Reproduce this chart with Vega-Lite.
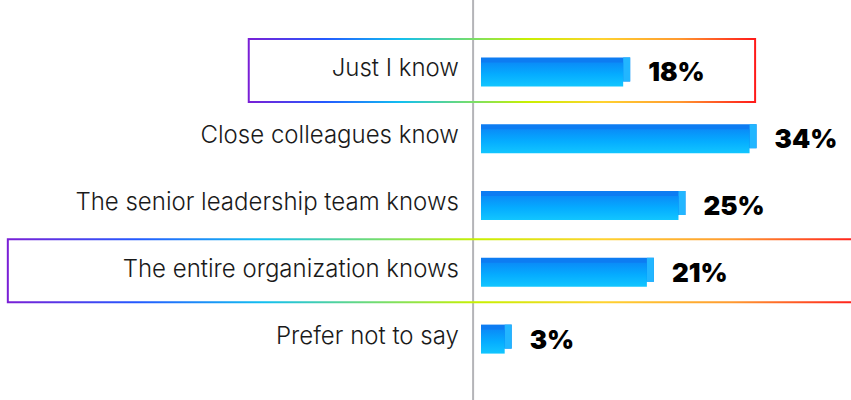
{
  "$schema": "https://vega.github.io/schema/vega-lite/v6.json",
  "width": 851,
  "height": 400,
  "padding": 0,
  "autosize": {"type": "none"},
  "background": "white",
  "config": {"view": {"stroke": null}},
  "datasets": {
    "bars": [
      {"cat": "Just I know", "value": 18},
      {"cat": "Close colleagues know", "value": 34},
      {"cat": "The senior leadership team knows", "value": 25},
      {"cat": "The entire organization knows", "value": 21},
      {"cat": "Prefer not to say", "value": 3}
    ],
    "boxes": [
      {"cat": "Just I know", "from": -29.4, "to": 34.7},
      {"cat": "The entire organization knows", "from": -59.9, "to": 48}
    ]
  },
  "encoding": {
    "y": {
      "field": "cat", "type": "nominal", "sort": null, "axis": null,
      "scale": {"domain": ["Just I know", "Close colleagues know", "The senior leadership team knows", "The entire organization knows", "Prefer not to say"], "range": [37, 371], "paddingInner": 0, "paddingOuter": 0}
    }
  },
  "layer": [
    {
      "data": {"values": [{"x": -1.0}]},
      "mark": {"type": "rule", "color": "#b4b4b8", "strokeWidth": 2},
      "encoding": {"x": {"field": "x", "type": "quantitative", "scale": {"domain": [-60.89, 46.84], "nice": false, "zero": false}, "axis": null}, "y": null}
    },
    {
      "data": {"name": "boxes"},
      "mark": {"type": "bar", "size": 63, "fill": null, "fillOpacity": 0, "strokeWidth": 2,
        "stroke": {"gradient": "linear", "x1": 0, "y1": 0, "x2": 1, "y2": 0, "stops": [
          {"offset": 0, "color": "#7a1fd6"},
          {"offset": 0.15, "color": "#2459ff"},
          {"offset": 0.3, "color": "#12bff0"},
          {"offset": 0.45, "color": "#7fe060"},
          {"offset": 0.55, "color": "#c8f000"},
          {"offset": 0.7, "color": "#ffd230"},
          {"offset": 0.85, "color": "#ff9a30"},
          {"offset": 1, "color": "#ff1a1a"}
        ]}},
      "encoding": {
        "x": {"field": "from", "type": "quantitative", "scale": {"domain": [-60.89, 46.84], "nice": false, "zero": false}, "axis": null},
        "x2": {"field": "to"}
      }
    },
    {
      "data": {"name": "bars"},
      "mark": {"type": "bar", "size": 24, "xOffset": 7, "yOffset": -1, "color": "#0d7cf2"},
      "encoding": {
        "x": {"field": "value", "type": "quantitative", "scale": {"domain": [-60.89, 46.84], "nice": false, "zero": false}, "axis": null},
        "x2": {"datum": 0}
      }
    },
    {
      "data": {"name": "bars"},
      "mark": {"type": "bar", "size": 24, "x2Offset": 7, "yOffset": -1, "color": "#22b6ff"},
      "encoding": {
        "x": {"field": "value", "type": "quantitative", "scale": {"domain": [-60.89, 46.84], "nice": false, "zero": false}, "axis": null},
        "x2": {"field": "value"}
      }
    },
    {
      "data": {"name": "bars"},
      "mark": {"type": "bar", "size": 24, "yOffset": 4,
        "color": {"gradient": "linear", "x1": 0, "y1": 0, "x2": 0, "y2": 1, "stops": [
          {"offset": 0, "color": "#0a8cf8"},
          {"offset": 0.5, "color": "#05acff"},
          {"offset": 1, "color": "#12c6ff"}
        ]}},
      "encoding": {
        "x": {"field": "value", "type": "quantitative", "scale": {"domain": [-60.89, 46.84], "nice": false, "zero": false}, "axis": null},
        "x2": {"datum": 0}
      }
    },
    {
      "data": {"name": "bars"},
      "mark": {"type": "text", "align": "left", "baseline": "middle", "dx": 25, "dy": 3, "font": "Inter", "fontWeight": 900, "fontSize": 26, "color": "#000000", "text": {"expr": "datum.value + '%'"}},
      "encoding": {
        "x": {"field": "value", "type": "quantitative", "scale": {"domain": [-60.89, 46.84], "nice": false, "zero": false}, "axis": null}
      }
    },
    {
      "data": {"name": "bars"},
      "mark": {"type": "text", "align": "right", "baseline": "middle", "dy": -1, "font": "Inter", "fontWeight": 300, "fontSize": 24, "color": "#1a1a1a"},
      "encoding": {
        "x": {"datum": -2.8, "type": "quantitative", "scale": {"domain": [-60.89, 46.84], "nice": false, "zero": false}, "axis": null},
        "text": {"field": "cat"}
      }
    }
  ]
}
